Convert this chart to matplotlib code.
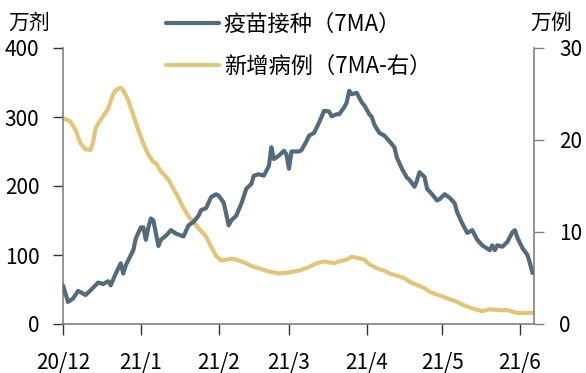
import matplotlib
matplotlib.use("Agg")
import matplotlib.pyplot as plt
import pandas as pd

plt.rcParams['font.family'] = ['Noto Sans CJK SC', 'DejaVu Sans']

# 疫苗接种 7MA (万剂) — day offset from 2020-12-01, value
vac_days = [0, 2, 4, 6, 9, 11, 14, 16, 18, 19, 21, 23, 24, 25, 28, 29, 31, 32, 33, 34,
            35, 36, 38, 39, 41, 43, 45, 48, 50, 52, 54, 55, 57, 59, 61, 62, 64, 66, 67, 69,
            71, 73, 75, 76, 78, 80, 82, 83, 84, 86, 88, 89, 90, 91, 94, 95, 97, 98, 100, 102,
            104, 106, 107, 109, 110, 112, 113, 114, 115, 117, 119, 120, 122, 123, 124, 126, 128, 130, 132, 133,
            135, 137, 138, 140, 141, 142, 144, 145, 147, 149, 150, 152, 154, 156, 157, 159, 161, 163, 165, 167,
            170, 171, 172, 173, 175, 177, 179, 180, 181, 183, 185, 186, 187]
vac_vals = [56, 32, 37, 48, 42, 49, 60, 58, 62, 56, 73, 88, 73, 85, 107, 124, 140, 140, 122, 140,
            153, 150, 113, 122, 128, 136, 131, 127, 143, 148, 157, 165, 168, 184, 188, 186, 176, 143, 150, 157,
            174, 196, 203, 215, 217, 215, 229, 256, 239, 244, 251, 246, 225, 250, 250, 252, 265, 273, 277, 292,
            309, 308, 301, 304, 304, 314, 321, 338, 333, 335, 321, 317, 304, 300, 289, 277, 273, 265, 256, 241,
            225, 212, 209, 199, 208, 220, 213, 196, 188, 179, 181, 188, 183, 175, 162, 146, 132, 136, 122, 114,
            107, 114, 107, 114, 112, 119, 133, 136, 125, 110, 100, 88, 74]

# 新增病例 7MA (万例, right axis)
case_days = [0, 3, 5, 7, 9, 11, 12, 13, 15, 18, 20, 21, 23, 24, 26, 28, 30, 32, 34, 36,
             37, 39, 42, 44, 46, 48, 50, 52, 54, 57, 59, 61, 63, 65, 67, 69, 71, 73, 75, 78,
             82, 86, 90, 94, 98, 101, 104, 108, 110, 113, 115, 117, 120, 122, 125, 128, 130, 133, 136, 138,
             141, 144, 146, 149, 153, 157, 160, 163, 167, 170, 174, 177, 181, 184, 187]
case_vals = [22.4, 22.0, 21.1, 19.6, 19.0, 18.9, 19.8, 21.3, 22.2, 23.4, 25.0, 25.4, 25.7, 25.4, 24.3, 22.7, 21.1, 19.6, 18.4, 17.6,
             17.5, 16.6, 15.7, 14.7, 13.7, 12.6, 11.7, 11.1, 10.4, 9.5, 8.4, 7.4, 6.9, 7.0, 7.1, 7.0, 6.8, 6.6, 6.3, 6.05,
             5.7, 5.5, 5.6, 5.8, 6.2, 6.6, 6.8, 6.6, 6.8, 7.0, 7.3, 7.2, 7.0, 6.5, 6.05, 5.8, 5.5, 5.25, 4.96, 4.6,
             4.24, 3.9, 3.5, 3.2, 2.8, 2.4, 2.0, 1.7, 1.4, 1.6, 1.5, 1.5, 1.2, 1.2, 1.2]

start = pd.Timestamp('2020-12-01')
vac_dates = [start + pd.Timedelta(days=d) for d in vac_days]
case_dates = [start + pd.Timedelta(days=d) for d in case_days]

month_ticks = ['2020-12-01', '2021-01-01', '2021-02-01', '2021-03-01', '2021-04-01', '2021-05-01', '2021-06-01']
month_labels = ['20/12', '21/1', '21/2', '21/3', '21/4', '21/5', '21/6']

left_ticks = [0, 100, 200, 300, 400]
right_ticks = [0, 10, 20, 30]

vac_color = '#546B7B'
case_color = '#E3C57A'
spine_color = '#808080'

fig = plt.figure(figsize=(5.86, 3.73), dpi=100)
ax = fig.add_axes([63/586, 1 - 324/373, (534 - 63)/586, (324 - 48)/373])
ax2 = ax.twinx()

l1, = ax.plot(vac_dates, vac_vals, color=vac_color, lw=3.0, solid_capstyle='round', zorder=3)
l2, = ax2.plot(case_dates, case_vals, color=case_color, lw=3.0, solid_capstyle='round', zorder=2)
ax.set_zorder(ax2.get_zorder() + 1)
ax.patch.set_visible(False)

ax.set_xlim(start, start + pd.Timedelta(days=187.6))
ax.set_ylim(0, 400)
ax2.set_ylim(0, 30)
ax.set_xticks(pd.to_datetime(month_ticks))
ax.set_xticklabels(month_labels)
ax.set_yticks(left_ticks)
ax2.set_yticks(right_ticks)

for a in (ax, ax2):
    a.spines['top'].set_visible(False)
    for s in ('left', 'right', 'bottom'):
        a.spines[s].set_color(spine_color)
        a.spines[s].set_linewidth(1.2)
ax.spines['right'].set_visible(False)
ax2.spines['left'].set_visible(False)
ax2.spines['bottom'].set_visible(False)

ax.tick_params(axis='x', direction='out', length=8, width=1, color='#333333', labelsize=15, pad=12)
ax.tick_params(axis='y', direction='out', length=7, width=1, color='#333333', labelsize=15, pad=10)
ax2.tick_params(axis='y', direction='out', length=7, width=1, color=spine_color, labelsize=15, pad=11)

fig.text(8/586, 1 - 23/373, '万剂', fontsize=15, va='center', ha='left')
fig.text(530/586, 1 - 23/373, '万例', fontsize=15, va='center', ha='left')

leg = ax.legend([l1, l2], ['疫苗接种（7MA）', '新增病例（7MA-右）'],
                loc='upper left', bbox_to_anchor=(166/586, 1 - 13/373), bbox_transform=fig.transFigure,
                frameon=False, fontsize=16, handlelength=2.4, handletextpad=0.2,
                labelspacing=0.85, borderpad=0, borderaxespad=0)

fig.savefig('out.png', dpi=100)
